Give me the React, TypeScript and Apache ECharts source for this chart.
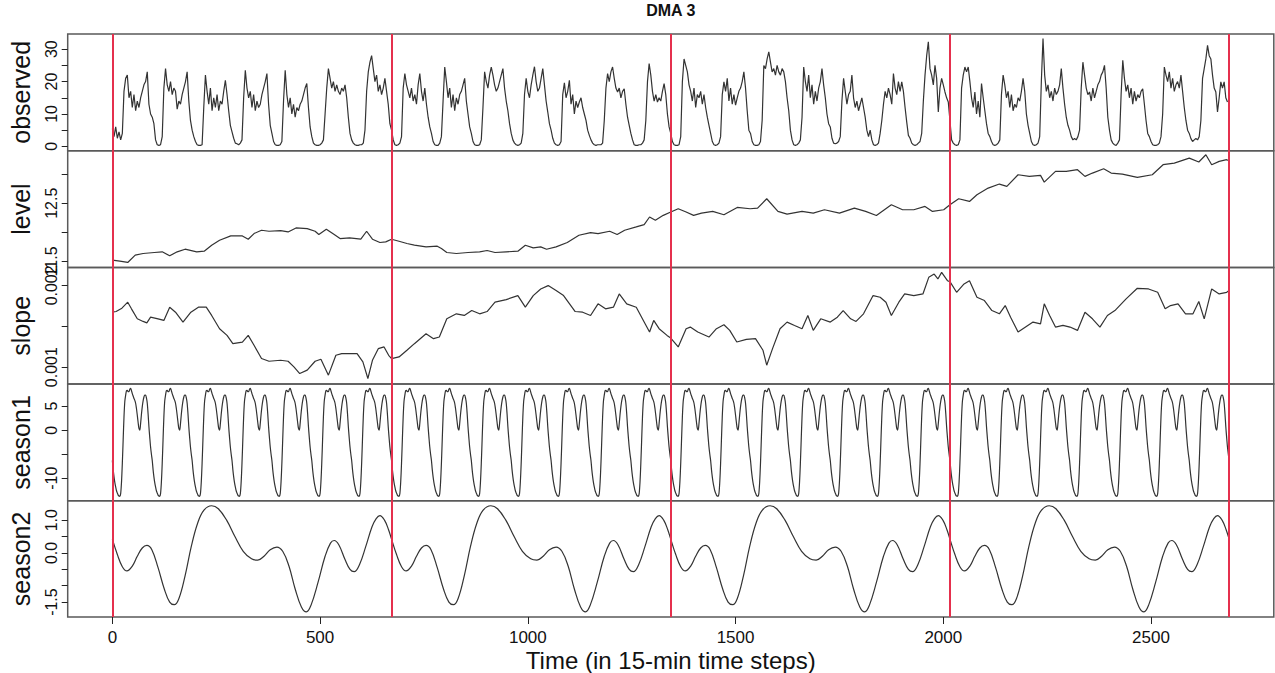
import React, { useEffect, useRef } from "react";
import * as echarts from "echarts";

const TITLE = "DMA 3";
const X_NAME = "Time (in 15-min time steps)";
const X_TICKS = [0, 500, 1000, 1500, 2000, 2500];
const WEEK_MARKS = [0, 672, 1344, 2016, 2688];
const STEPS_PER_DAY = 96;
const STEPS_PER_WEEK = 672;
const N_WEEKS = 4;

// observed: one row per day, hourly readings (every 4 steps)
const OBSERVED_HOURLY: number[][] = [
  [5.5, 3, 6, 2.5, 4.5, 2, 4, 17, 21, 22, 15, 17, 12, 16, 11, 14, 12, 15, 17, 19, 20, 23, 13, 10],
  [9, 7, 2, 0.5, 0.3, 0.5, 3, 18, 24, 19, 17, 20, 16, 18, 17, 11.5, 14, 13, 16, 18, 20, 23, 14, 8],
  [5, 3, 1.5, 0.5, 0.3, 0.3, 0.5, 12, 22, 17, 13, 18, 11, 15, 12, 16, 11, 14, 13, 17, 20.4, 16, 11, 6.5],
  [4.5, 2.5, 1, 0.8, 0.5, 1, 2, 15, 23.5, 18, 15, 17, 12, 16, 11, 14, 12, 13, 16, 18, 20, 22.5, 13, 6.5],
  [4, 1.5, 0.5, 0.3, 0.3, 0.5, 1.5, 14, 23.5, 16, 12, 15, 10, 13, 9, 12, 11, 13, 14, 16, 18, 19.4, 12, 6],
  [3, 1, 0.5, 0.3, 0.3, 0.5, 1, 2, 10, 18, 24, 21, 18, 20, 17, 19, 17, 16, 18, 17, 19, 15, 9, 4],
  [2, 1, 0.5, 0.3, 0.3, 0.5, 0.5, 1, 5, 17, 23, 26, 28, 24, 20, 22, 17, 19, 16, 18, 21, 17, 13, 7],
  [5, 2, 0.5, 0.3, 0.5, 1, 3, 18, 22.5, 19, 17, 15, 18, 14, 16, 13, 19, 22.5, 17, 14, 18, 13, 9, 6],
  [4, 1.5, 0.5, 0.3, 0.3, 1, 3, 14, 24.5, 20, 15, 18, 12, 16, 11, 15, 13, 16, 17, 19, 21, 14, 10, 6],
  [4, 1.5, 0.5, 0.3, 0.3, 0.5, 2, 12, 23, 20, 18, 22, 24.5, 22, 19, 17, 18, 20, 22, 24, 18, 14, 11, 7],
  [4, 2, 1, 0.5, 0.3, 0.5, 1, 4, 16, 21, 17, 15, 19, 22, 24.6, 20, 17, 18, 21, 24, 19, 14, 10.6, 7],
  [5, 2.5, 1, 0.5, 0.3, 0.5, 1.5, 16, 19.6, 15, 17, 20.4, 13, 16, 10, 14, 12, 13.7, 15, 12, 10, 8, 5, 3.4],
  [2, 1, 0.5, 0.3, 0.5, 0.5, 0.5, 1, 8, 18, 22.5, 20, 23, 24.5, 21, 18, 16.8, 18, 15, 17, 17.8, 13, 9, 6.5],
  [4, 2, 0.5, 0.3, 0.3, 0.5, 0.5, 1, 2, 8, 20, 25.6, 22, 17, 14, 16, 13.7, 15, 14, 17, 19.4, 16, 10, 6],
  [4, 1.5, 0.5, 0.3, 0.3, 0.5, 3, 20, 27, 25, 23, 19, 17, 14, 18, 12, 16, 15, 17, 13, 16, 12, 9, 6.5],
  [4, 1.5, 0.5, 0.3, 0.5, 1, 3, 16, 19.9, 17, 21, 14, 18, 13, 16, 12.7, 15, 17, 18, 20, 23, 18, 11, 5],
  [4, 1.5, 0.5, 0.3, 0.3, 0.5, 1.5, 8, 25, 24, 27, 29.2, 26, 23, 24, 22, 25, 23, 22, 24, 23, 20, 15, 11],
  [5, 2, 0.5, 0.3, 0.5, 1, 2, 9, 24.5, 20, 17, 22, 15, 19, 13, 17, 14, 18, 20, 24, 19, 15, 10, 7],
  [6, 2.5, 1, 0.8, 1, 1.5, 3, 14, 21, 17, 13, 16, 17, 22, 15, 12, 14, 11, 13, 15, 12, 9, 5, 3],
  [5, 2, 0.5, 0.3, 0.5, 1, 4, 8, 13, 17, 15, 18, 16, 13, 22.5, 18, 16, 20, 17, 19.9, 17, 12, 7.5, 3.4],
  [2.5, 1, 0.5, 0.3, 0.5, 1, 1.5, 4, 14, 22, 28, 32.3, 24, 22, 19, 25, 21, 10.6, 18, 21, 19, 16.8, 15, 13.7],
  [8, 2, 1, 0.5, 0.3, 0.5, 2, 18, 22, 24.5, 23, 24.5, 20, 15, 12, 16.8, 10, 14, 9, 19.4, 15, 11, 7, 4],
  [3, 1.5, 0.5, 0.3, 0.5, 1, 2, 16, 22, 19, 15, 17, 12, 16, 11, 13, 12, 15, 14, 17, 21, 17, 10, 6.5],
  [4, 1.5, 0.5, 0.3, 0.5, 1, 3, 20, 33.3, 22, 17, 19, 15, 17, 14, 18, 16, 17, 19, 24, 18, 13, 9, 6.5],
  [5, 3, 2, 2.4, 2, 3, 5, 18, 26, 22, 18, 16, 16.8, 14, 18, 15, 17, 19, 20, 22, 23, 25, 18, 9],
  [5, 2, 1, 0.5, 0.3, 1, 2, 16, 26.6, 21, 17, 19, 15, 18, 13, 17, 14, 16, 15, 17, 17.8, 13, 8, 4],
  [3, 1.5, 0.5, 0.3, 0.3, 0.5, 1, 3, 10, 24.5, 22, 20, 23, 18, 21, 17, 19, 20, 18, 22, 17, 12, 8, 5],
  [4, 2.4, 1.5, 2, 2.4, 2, 3, 8, 21, 24, 27, 31.2, 28, 27, 22, 18, 16.8, 10.6, 15, 19.9, 18, 19.9, 15, 13.7],
];

// level: [time step, value]
const LEVEL: [number, number][] = [
  [0, 11.522], [18, 11.505], [37, 11.482], [55, 11.608], [74, 11.636], [101, 11.653], [120, 11.665],
  [138, 11.596], [156, 11.665], [175, 11.71], [203, 11.665], [221, 11.676], [239, 11.779], [258, 11.865],
  [285, 11.939], [313, 11.939], [327, 11.882], [341, 11.979], [359, 12.036], [377, 12.019], [405, 12.03],
  [423, 12.007], [442, 12.076], [469, 12.064], [488, 12.019], [497, 11.962], [515, 12.053], [534, 11.962],
  [548, 11.893], [571, 11.905], [598, 11.882], [612, 12.019], [626, 11.882], [644, 11.825], [658, 11.836],
  [672, 11.882], [690, 11.847], [709, 11.808], [727, 11.779], [755, 11.75], [782, 11.762], [792, 11.722],
  [805, 11.653], [828, 11.636], [856, 11.653], [884, 11.665], [902, 11.688], [921, 11.653], [948, 11.665],
  [976, 11.676], [994, 11.779], [1013, 11.733], [1031, 11.75], [1045, 11.71], [1068, 11.75], [1095, 11.825],
  [1123, 11.95], [1151, 11.996], [1169, 11.979], [1197, 12.019], [1215, 11.962], [1233, 12.036],
  [1261, 12.093], [1280, 12.133], [1293, 12.264], [1307, 12.207], [1326, 12.293], [1344, 12.35],
  [1362, 12.407], [1381, 12.35], [1399, 12.293], [1418, 12.331], [1445, 12.36], [1472, 12.303],
  [1504, 12.429], [1535, 12.406], [1553, 12.417], [1575, 12.578], [1602, 12.36], [1624, 12.314],
  [1660, 12.36], [1687, 12.331], [1714, 12.389], [1750, 12.331], [1786, 12.417], [1813, 12.36],
  [1839, 12.291], [1875, 12.475], [1902, 12.389], [1929, 12.389], [1956, 12.446], [1974, 12.36],
  [2001, 12.389], [2016, 12.475], [2037, 12.578], [2063, 12.532], [2081, 12.647], [2108, 12.762],
  [2135, 12.831], [2153, 12.791], [2180, 12.991], [2207, 12.963], [2234, 12.98], [2243, 12.865],
  [2270, 13.049], [2296, 13.049], [2323, 13.078], [2341, 12.963], [2359, 13.02], [2386, 13.095],
  [2404, 13.02], [2431, 13.003], [2467, 12.945], [2503, 12.991], [2529, 13.164], [2556, 13.192],
  [2592, 13.278], [2615, 13.21], [2632, 13.336], [2646, 13.164], [2664, 13.221], [2682, 13.25], [2688, 13.232],
];

// slope: [time step, value]
const SLOPE: [number, number][] = [
  [0, 0.001672], [9, 0.00168], [23, 0.001721], [37, 0.001794], [46, 0.001713], [60, 0.001591], [74, 0.001559],
  [83, 0.001542], [92, 0.001611], [110, 0.001591], [124, 0.001571], [138, 0.001733], [152, 0.001672],
  [170, 0.001551], [189, 0.001672], [207, 0.001733], [226, 0.001733], [239, 0.001632], [258, 0.00147],
  [276, 0.001388], [290, 0.001287], [313, 0.001307], [327, 0.001388], [341, 0.001267], [359, 0.001105],
  [377, 0.001072], [405, 0.001084], [423, 0.001072], [437, 0.001003], [451, 0.000922], [469, 0.000963],
  [488, 0.001072], [502, 0.001097], [520, 0.000902], [538, 0.001145], [552, 0.001165], [575, 0.001165],
  [589, 0.001165], [603, 0.001064], [615, 0.000861], [626, 0.001084], [640, 0.001226], [654, 0.001247],
  [665, 0.001145], [672, 0.001105], [690, 0.001125], [709, 0.001206], [727, 0.001287], [755, 0.001409],
  [773, 0.001348], [787, 0.001368], [805, 0.001591], [828, 0.001652], [847, 0.001632], [865, 0.001692],
  [884, 0.001652], [902, 0.00168], [921, 0.001794], [948, 0.001826], [976, 0.001875], [994, 0.001733],
  [1013, 0.001875], [1031, 0.001956], [1049, 0.001997], [1068, 0.001936], [1086, 0.001875], [1114, 0.00168],
  [1132, 0.001672], [1151, 0.001632], [1169, 0.001774], [1187, 0.001713], [1206, 0.001733], [1220, 0.001895],
  [1238, 0.001774], [1261, 0.001733], [1280, 0.001551], [1293, 0.001429], [1303, 0.001571], [1316, 0.00147],
  [1335, 0.001388], [1344, 0.001356], [1362, 0.001247], [1381, 0.00147], [1391, 0.00149], [1409, 0.001429],
  [1436, 0.001368], [1454, 0.00147], [1472, 0.001518], [1486, 0.001449], [1503, 0.001307], [1526, 0.00134],
  [1548, 0.001348], [1566, 0.001206], [1575, 0.001024], [1589, 0.001226], [1607, 0.00147], [1624, 0.001551],
  [1642, 0.00151], [1660, 0.00147], [1674, 0.001632], [1687, 0.001449], [1705, 0.001591], [1728, 0.001551],
  [1745, 0.001611], [1759, 0.001692], [1777, 0.001591], [1790, 0.001559], [1808, 0.001652], [1831, 0.001875],
  [1848, 0.001855], [1862, 0.001794], [1875, 0.001632], [1893, 0.001794], [1907, 0.001895], [1929, 0.001875],
  [1951, 0.001895], [1965, 0.002098], [1978, 0.002138], [1987, 0.002078], [1996, 0.002159], [2010, 0.002057],
  [2016, 0.002045], [2032, 0.001915], [2050, 0.002017], [2063, 0.002057], [2081, 0.001855], [2099, 0.001814],
  [2117, 0.001692], [2135, 0.001652], [2149, 0.001753], [2162, 0.001611], [2180, 0.001429], [2198, 0.00149],
  [2216, 0.001551], [2234, 0.00153], [2243, 0.001774], [2256, 0.001632], [2270, 0.00149], [2288, 0.00151],
  [2305, 0.00149], [2323, 0.001449], [2341, 0.001672], [2359, 0.001591], [2377, 0.00149], [2395, 0.001632],
  [2413, 0.001692], [2440, 0.001834], [2467, 0.001964], [2494, 0.001956], [2516, 0.001915], [2534, 0.001713],
  [2547, 0.001753], [2565, 0.001774], [2583, 0.001652], [2601, 0.001652], [2615, 0.001802], [2628, 0.001591],
  [2646, 0.001956], [2664, 0.001895], [2682, 0.001915], [2688, 0.001936],
];

// season1: daily profile, one reading every half hour (every 2 steps)
const SEASON1_DAY: number[] = [
  -6.3, -8.2, -9.7, -10.9, -11.8, -12.6, -13.1, -13.5, -13.7, -13.75, -13.2, -10.8,
  -6.9, -2.0, 2.8, 6.0, 7.3, 8.2, 8.3, 8.0, 8.0, 8.5, 8.7, 8.2,
  7.6, 7.1, 6.6, 6.2, 5.6, 4.5, 3.1, 1.6, 0.35, 0.0, 1.4, 3.3,
  4.9, 6.1, 6.9, 7.3, 7.3, 6.7, 5.6, 3.4, 0.7, -1.5, -3.5, -5.0,
];

// season2: weekly profile, [step within week, value]
const SEASON2_WEEK: [number, number][] = [
  [0, 0.42], [12, -0.05], [24, -0.42], [35, -0.55], [48, -0.4], [60, -0.1], [72, 0.15], [83, 0.23],
  [95, 0.1], [110, -0.45], [125, -1.1], [138, -1.5], [149, -1.58], [160, -1.4], [175, -0.7], [190, 0.2],
  [205, 0.9], [220, 1.3], [239, 1.44], [255, 1.35], [275, 1.0], [295, 0.5], [315, 0.05], [335, -0.18],
  [350, -0.22], [365, -0.1], [380, 0.1], [396, 0.18], [410, 0.05], [425, -0.4], [440, -1.1], [455, -1.65],
  [467, -1.8], [478, -1.6], [495, -0.9], [512, -0.1], [525, 0.3], [534, 0.38], [545, 0.25], [560, -0.2],
  [572, -0.5], [582, -0.57], [595, -0.35], [610, 0.2], [625, 0.8], [635, 1.05], [644, 1.14], [655, 1.0],
  [665, 0.7],
];

const OBS_TICKS = [0, 5, 10, 15, 20, 25, 30];
const OBS_LABELS = [0, 10, 20, 30];
const LEVEL_TICKS = [11.5, 12, 12.5, 13];
const LEVEL_LABELS = [11.5, 12.5];
const SLOPE_TICKS = [0.001, 0.0015, 0.002];
const SLOPE_LABELS = [0.001, 0.002];
const S1_TICKS = [-10, -5, 0, 5];
const S1_LABELS = [-10, 0, 5];
const S2_TICKS = [-1.5, -1, -0.5, 0, 0.5, 1];
const S2_LABELS = [-1.5, 0, 1];

function buildObserved(): [number, number][] {
  const out: [number, number][] = [];
  OBSERVED_HOURLY.forEach((day, d) => {
    day.forEach((v, h) => out.push([d * STEPS_PER_DAY + h * 4, v]));
  });
  return out;
}

function buildSeason1(): [number, number][] {
  const out: [number, number][] = [];
  const nDays = OBSERVED_HOURLY.length;
  for (let d = 0; d < nDays; d++) {
    SEASON1_DAY.forEach((v, i) => out.push([d * STEPS_PER_DAY + i * 2, v]));
  }
  out.push([nDays * STEPS_PER_DAY, SEASON1_DAY[0]]);
  return out;
}

function buildSeason2(): [number, number][] {
  const out: [number, number][] = [];
  for (let w = 0; w < N_WEEKS; w++) {
    SEASON2_WEEK.forEach(([t, v]) => out.push([w * STEPS_PER_WEEK + t, v]));
  }
  out.push([N_WEEKS * STEPS_PER_WEEK, SEASON2_WEEK[0][1]]);
  return out;
}

const FONT = "'Liberation Sans', Arial, Helvetica, sans-serif";

export default function App() {
  const ref = useRef<HTMLDivElement>(null);

  useEffect(() => {
    if (!ref.current) return;
    const chart = echarts.init(ref.current, undefined, { renderer: "svg" });

    const gridLeft = 67.7;
    const gridWidth = 1206.1;
    const gridTop = 34;
    const panelH = 116.7;

    const panels = [
      { name: "observed", data: buildObserved(), ylim: [-1.34, 34.7], ticks: OBS_TICKS, labels: OBS_LABELS, fmt: (v: number) => String(v), smooth: false },
      { name: "level", data: LEVEL, ylim: [11.397, 13.405], ticks: LEVEL_TICKS, labels: LEVEL_LABELS, fmt: (v: number) => v.toFixed(1), smooth: false },
      { name: "slope", data: SLOPE, ylim: [0.0007927, 0.0022195], ticks: SLOPE_TICKS, labels: SLOPE_LABELS, fmt: (v: number) => String(v), smooth: false },
      { name: "season1", data: buildSeason1(), ylim: [-14.69, 9.583], ticks: S1_TICKS, labels: S1_LABELS, fmt: (v: number) => String(v), smooth: 0.3 },
      { name: "season2", data: buildSeason2(), ylim: [-1.955, 1.591], ticks: S2_TICKS, labels: S2_LABELS, fmt: (v: number) => v.toFixed(1), smooth: 0.4 },
    ];

    const last = panels.length - 1;

    const option: any = {
      animation: false,
      backgroundColor: "#ffffff",
      textStyle: { fontFamily: FONT },
      title: {
        text: TITLE,
        left: gridLeft + gridWidth / 2,
        top: 2,
        padding: 0,
        textAlign: "center",
        textStyle: { fontFamily: FONT, fontSize: 16, fontWeight: "bold", color: "#111" },
      },
      grid: panels.map((_, i) => ({
        left: gridLeft,
        width: gridWidth,
        top: gridTop + i * panelH,
        height: panelH,
        show: true,
        borderColor: "#5a5a5a",
        borderWidth: 1.5,
        backgroundColor: "transparent",
        containLabel: false,
      })),
      xAxis: panels.map((_, i) => ({
        type: "value",
        gridIndex: i,
        min: -107.5,
        max: 2795.5,
        show: i === last,
        position: "bottom",
        splitLine: { show: false },
        axisLine: { show: false, onZero: false },
        axisTick: { show: true, length: 7, customValues: X_TICKS, lineStyle: { color: "#222", width: 1 } },
        axisLabel: {
          show: true,
          customValues: X_TICKS,
          margin: 12,
          fontSize: 17,
          color: "#111",
          fontFamily: FONT,
          formatter: (v: number) => String(v),
        },
        name: i === last ? X_NAME : "",
        nameLocation: "middle",
        nameGap: 31,
        nameTextStyle: { fontSize: 24, color: "#111", fontFamily: FONT },
      })),
      yAxis: panels.map((p, i) => ({
        type: "value",
        gridIndex: i,
        min: p.ylim[0],
        max: p.ylim[1],
        splitLine: { show: false },
        axisLine: { show: false, onZero: false },
        axisTick: { show: true, length: 6, customValues: p.ticks, lineStyle: { color: "#222", width: 1 } },
        axisLabel: {
          show: true,
          customValues: p.labels,
          rotate: 90,
          margin: 8,
          fontSize: 16,
          color: "#111",
          fontFamily: FONT,
          formatter: (v: number) => p.fmt(v),
        },
        name: p.name,
        nameLocation: "middle",
        nameRotate: 90,
        nameGap: 34,
        nameTextStyle: { fontSize: 25, color: "#111", fontFamily: FONT },
      })),
      series: panels.map((p, i) => ({
        type: "line",
        name: p.name,
        xAxisIndex: i,
        yAxisIndex: i,
        data: p.data,
        showSymbol: false,
        symbol: "none",
        smooth: p.smooth,
        lineStyle: { color: "#333333", width: 1.2 },
        silent: true,
        markLine: {
          silent: true,
          symbol: "none",
          label: { show: false },
          lineStyle: { color: "#e5304d", width: 2, type: "solid" },
          data: WEEK_MARKS.map((x) => ({ xAxis: x })),
        },
      })),
    };

    chart.setOption(option);
    return () => chart.dispose();
  }, []);

  return (
    <div
      ref={ref}
      style={{ position: "absolute", left: 0, top: 0, width: 1275, height: 673 }}
    />
  );
}
